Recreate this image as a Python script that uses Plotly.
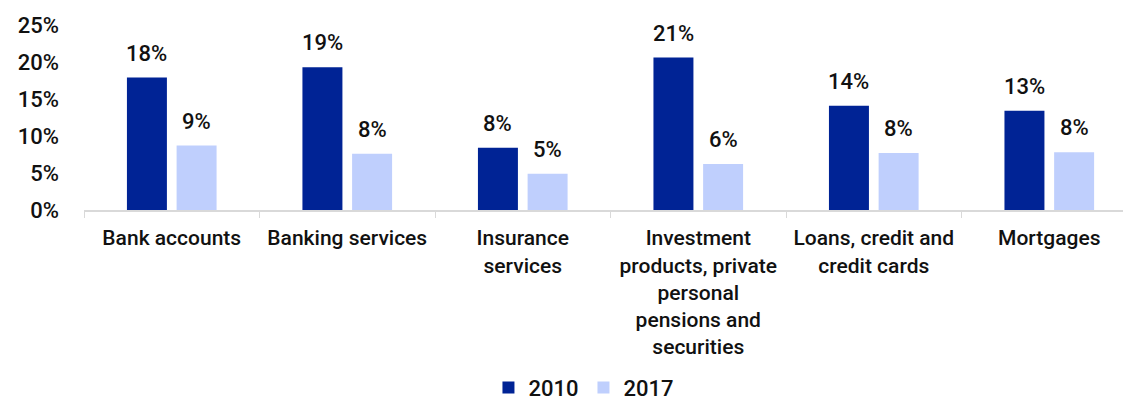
import plotly.graph_objects as go

# Share of complaints by product line, 2010 vs 2017 (%)
categories = [
    "Bank accounts",
    "Banking services",
    "Insurance<br>services",
    "Investment<br>products, private<br>personal<br>pensions and<br>securities",
    "Loans, credit and<br>credit cards",
    "Mortgages",
]
values_2010 = [17.9, 19.3, 8.4, 20.6, 14.1, 13.4]
values_2017 = [8.7, 7.6, 4.9, 6.2, 7.7, 7.8]
y_ticks = [0, 5, 10, 15, 20, 25]

DARK = "#002395"
LIGHT = "#BFCFFD"
FONT = "Roboto"

fig = go.Figure()
fig.add_trace(go.Bar(name="2010", x=categories, y=values_2010,
                     marker=dict(color=DARK, line=dict(width=0))))
fig.add_trace(go.Bar(name="2017", x=categories, y=values_2017,
                     marker=dict(color=LIGHT, line=dict(width=0))))

# value labels above each bar
offset_px = 24.85
for vals, dx in ((values_2010, -offset_px), (values_2017, offset_px)):
    for cat, v in zip(categories, vals):
        fig.add_annotation(x=cat, y=v, text=f"{round(v):.0f}%", showarrow=False,
                           xshift=dx, yshift=10, yanchor="bottom",
                           font=dict(family=FONT, size=22, color="#111111", weight=500))

fig.update_layout(
    width=1123, height=401,
    margin=dict(l=84, r=0, t=25, b=191),
    paper_bgcolor="white", plot_bgcolor="white",
    barmode="group", bargap=0.434, bargroupgap=0.195,
    font=dict(family=FONT, color="#111111"),
    showlegend=True,
    legend=dict(orientation="h", xref="container", yref="container",
                x=0.52, xanchor="center", y=0.033, yanchor="middle",
                font=dict(family=FONT, size=22, weight=500), traceorder="normal",
                itemwidth=30),
)
fig.update_xaxes(
    range=[-0.5, 5.42], showline=True, linecolor="#d9d9d9", linewidth=2,
    ticks="outside", tickson="boundaries", ticklen=6, tickcolor="#d9d9d9",
    tickfont=dict(family=FONT, size=21, weight=500), ticklabelstandoff=8,
    showgrid=False,
)
fig.update_yaxes(
    range=[0, 25], tickvals=y_ticks, ticktext=[f"{t}%" for t in y_ticks],
    showgrid=False, zeroline=False, showline=False,
    tickfont=dict(family=FONT, size=22, weight=500), ticklabelstandoff=24,
)

fig.write_html("out.html")
